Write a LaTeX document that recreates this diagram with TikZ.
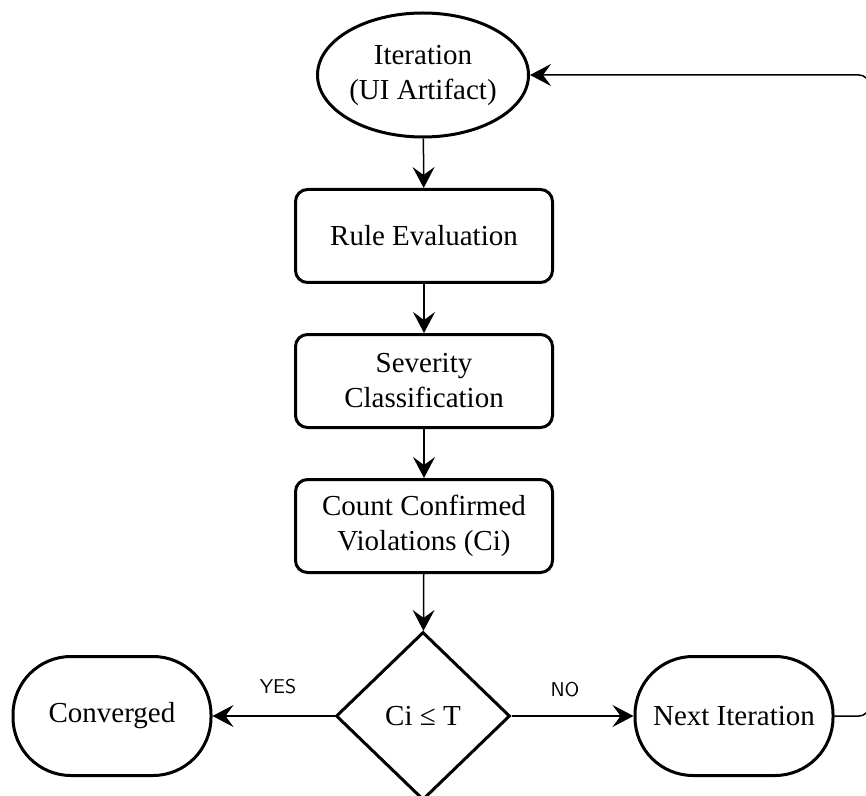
\documentclass[tikz,border=0pt]{standalone}
\usepackage{fontspec}
\setmainfont{Liberation Serif}
\usetikzlibrary{arrows.meta,shapes.geometric}

\begin{document}
\begin{tikzpicture}[x=.5pt,y=-.5pt,
  font=\fontsize{14.5}{17.5}\selectfont,
  box/.style={draw,line width=1.5pt,rounded corners=6pt,minimum width=128.5pt,minimum height=46.5pt,align=center,inner sep=0pt},
  term/.style={draw,line width=1.5pt,rounded corners=29pt,minimum width=99pt,minimum height=59.5pt,inner sep=0pt},
  flow/.style={line width=.75pt,-{Stealth[length=10.5pt,width=11pt,inset=4pt]}},
  lbl/.style={font=\sffamily\fontsize{10}{12}\selectfont}]
\useasboundingbox (0,0) rectangle (866,796);
\node[draw,ellipse,line width=1.5pt,minimum width=105.5pt,minimum height=62pt,inner sep=0pt,align=center] (iter) at (423,75) {Iteration\\(UI Artifact)};
\node[box] (rule) at (424,236) {Rule Evaluation};
\node[box] (sev) at (424,381) {Severity\\Classification};
\node[box] (count) at (424,526) {Count Confirmed\\Violations (Ci)};
\node[draw,diamond,line width=1.5pt,minimum width=87pt,minimum height=84pt,inner sep=0pt] (dec) at (423,716) {Ci ≤ T};
\node[term] (conv) at (112,716) {Converged};
\node[term] (next) at (734,716) {Next Iteration};
\node[lbl] (yes) at (278,687) {YES};
\node[lbl] (no) at (565,690) {NO};
\coordinate (c1) at (869,716);
\coordinate (c2) at (869,75);
\draw[flow] (iter) -- (rule);
\draw[flow] (rule) -- (sev);
\draw[flow] (sev) -- (count);
\draw[flow] (count) -- (dec);
\draw[flow] (dec) -- (conv);
\draw[flow] (dec) -- (next);
\draw[flow,rounded corners=5pt] (next.east) -- (c1) -- (c2) -- (iter.east);
\end{tikzpicture}
\end{document}
